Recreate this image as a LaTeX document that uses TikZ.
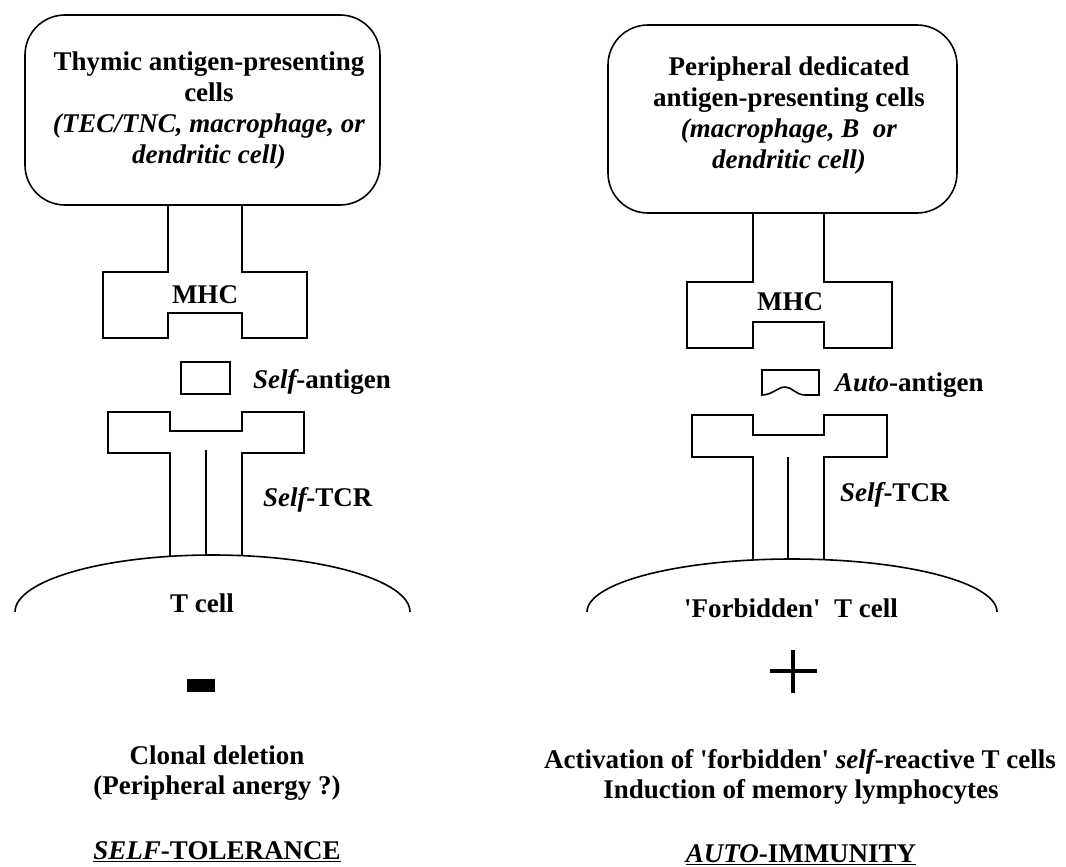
\documentclass[tikz,border=0pt]{standalone}
\usepackage{fontspec}
\setmainfont{Liberation Serif}
\begin{document}
\begin{tikzpicture}[y=1pt, x=1pt, yscale=-1, inner sep=0pt, outer sep=0pt,
  outline/.style={draw=black,line join=miter,line cap=butt,line width=1.6pt},
  apcbox/.style={draw=black,line join=round,line width=1.6pt,rounded corners=40pt},
  lbl/.style={font=\fontsize{27}{31}\selectfont\bfseries},
  lblbox/.style={lbl,align=center}]
\useasboundingbox (0,0) rectangle (1066,867);
% left: thymus
\path[apcbox] (25,15) rectangle (380,205);
\path (209,111) node[lblbox] (textapcl) {Thymic antigen-presenting\\cells\\
  \textit{(TEC/TNC, macrophage, or}\\\textit{dendritic cell)}};
\path[outline] (168,205) -- (168,272) -- (103,272) -- (103,338) -- (168,338) --
  (168,313) -- (242,313) -- (242,338) -- (307,338) -- (307,272) -- (242,272) --
  (242,205);
\path[outline] (181,362) rectangle (230,394);
\path[outline] (170,556) -- (170,453) -- (108,453) -- (108,412) -- (170,412) --
  (170,431) -- (242,431) -- (242,412) -- (304,412) -- (304,453) -- (242,453) --
  (242,556);
\path[outline] (206,450) -- (206,556);
\path[outline] (15,612) arc[start angle=180, end angle=360, x radius=197.5,
  y radius=57];
\path (205,295) node[lbl] (textmhcl) {MHC};
\path (253,382) node[lbl,right] (textagl) {{\itshape Self}-antigen};
\path (263,500) node[lbl,right] (texttcrl) {{\itshape Self}-TCR};
\path (202,603) node[lbl] (textcelll) {T cell};
\path[fill=black] (187,679) rectangle (215,692);
\path (217,755) node[lbl] (textdel) {Clonal deletion};
\path (217,788) node[lbl] (textanergy) {(Peripheral anergy ?)};
\path (217,852) node[lbl] (texttol) {\underline{{\itshape SELF}-TOLERANCE}};
% right: periphery
\path[apcbox] (608,25) rectangle (957,213);
\path (789,116) node[lblbox] (textapcr) {Peripheral dedicated\\antigen-presenting cells\\
  \textit{(macrophage, B~ or}\\\textit{dendritic cell)}};
\path[outline] (753,213) -- (753,282) -- (687,282) -- (687,348) -- (753,348) --
  (753,322) -- (824,322) -- (824,348) -- (892,348) -- (892,282) -- (824,282) --
  (824,213);
\path[outline] (762,395) .. controls (772,395) and (778,387) .. (785,387)
  .. controls (792,387) and (796,395) .. (805,395) -- (819,395) -- (819,370) --
  (762,370) -- cycle;
\path[outline] (753,560) -- (753,457) -- (692,457) -- (692,415) -- (753,415) --
  (753,435) -- (824,435) -- (824,415) -- (887,415) -- (887,457) -- (824,457) --
  (824,560);
\path[outline] (788,457) -- (788,560);
\path[outline] (587,612) arc[start angle=180, end angle=360, x radius=205,
  y radius=53];
\path (790,302) node[lbl] (textmhcr) {MHC};
\path (835,385) node[lbl,right] (textagr) {{\itshape Auto}-antigen};
\path (840,495) node[lbl,right] (texttcrr) {{\itshape Self}-TCR};
\path (791,608) node[lbl] (textcellr) {\textquotesingle Forbidden\textquotesingle~ T cell};
\path[outline,line width=4pt] (770,671) -- (817,671) (793,650) -- (793,693);
\path (800,762) node[lbl] (textact) {Activation of \textquotesingle forbidden\textquotesingle\ {\itshape self}-reactive T cells};
\path (801,792) node[lbl] (textmem) {Induction of memory lymphocytes};
\path (801,855) node[lbl] (textauto) {\underline{{\itshape AUTO}-IMMUNITY}};
\end{tikzpicture}
\end{document}
